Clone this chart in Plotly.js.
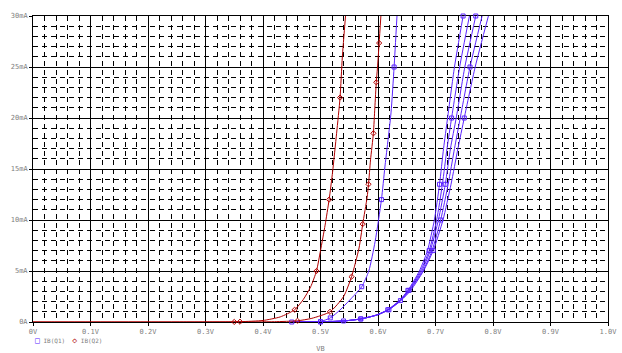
<!DOCTYPE html>
<html><head><meta charset="utf-8">
<script src="https://cdn.plot.ly/plotly-3.0.1.min.js"></script>
<style>html,body{margin:0;padding:0;background:#fff}#chart{width:622px;height:353px}</style>
</head><body><div id="chart"></div>
<script>
// Tick labels
const xTickVals = [0, 0.1, 0.2, 0.3, 0.4, 0.5, 0.6, 0.7, 0.8, 0.9, 1.0];
const xTickText = ['0V', '0.1V', '0.2V', '0.3V', '0.4V', '0.5V', '0.6V', '0.7V', '0.8V', '0.9V', '1.0V'];
const yTickVals = [0, 5, 10, 15, 20, 25, 30];
const yTickText = ['0A', '5mA', '10mA', '15mA', '20mA', '25mA', '30mA'];
const seriesNames = ['IB(Q1)', 'IB(Q2)'];

// IB(Q2) – red curves (V in volts, I in mA)
const q2aV = [0, 0.30, 0.36, 0.40, 0.43, 0.455, 0.47, 0.483, 0.493, 0.50, 0.508, 0.515, 0.521, 0.528, 0.534, 0.538, 0.5435];
const q2aI = [0, 0.005, 0.03, 0.15, 0.5, 1.2, 2.2, 3.46, 5.0, 7.0, 9.5, 12, 14.7, 18.5, 22, 26, 30];
const q2bV = [0, 0.35, 0.42, 0.46, 0.485, 0.5165, 0.540, 0.554, 0.567, 0.5734, 0.581, 0.5835, 0.587, 0.592, 0.5945, 0.597, 0.599, 0.602, 0.605];
const q2bI = [0, 0.005, 0.03, 0.12, 0.36, 1.0, 2.48, 4.44, 7.25, 9.6, 12.2, 13.5, 15.9, 18.5, 21.0, 23.5, 24.9, 27.35, 30];

// IB(Q1) – blue curves
const q1aV = [0.45, 0.48, 0.50, 0.517, 0.534, 0.551, 0.5717, 0.584, 0.595, 0.606, 0.612, 0.6226, 0.628, 0.633];
const q1aI = [0, 0.01, 0.05, 0.4, 1.18, 2.16, 3.46, 5.0, 7.9, 12, 15.2, 20.5, 25, 30];
const famI  = [0, 0.02, 0.1, 0.3, 0.7, 1.2, 2.1, 3.1, 5, 7, 10, 13.5, 17, 20, 25, 30];
const fam1V = [0.450, 0.500, 0.540, 0.570, 0.598, 0.617, 0.637, 0.652, 0.672, 0.686, 0.698, 0.707, 0.714, 0.721, 0.733, 0.748];
const fam2V = [0.450, 0.500, 0.540, 0.570, 0.598, 0.617, 0.638, 0.653, 0.674, 0.689, 0.702, 0.712, 0.720, 0.728, 0.742, 0.759];
const fam3V = [0.450, 0.500, 0.540, 0.570, 0.599, 0.618, 0.639, 0.654, 0.676, 0.691, 0.705, 0.717, 0.726, 0.736, 0.751, 0.770];
const fam4V = [0.450, 0.500, 0.540, 0.570, 0.599, 0.618, 0.639, 0.655, 0.678, 0.694, 0.709, 0.722, 0.733, 0.743, 0.760, 0.781];
const fam5V = [0.450, 0.500, 0.540, 0.570, 0.599, 0.619, 0.640, 0.657, 0.679, 0.696, 0.713, 0.727, 0.739, 0.750, 0.769, 0.792];

const BLUE = '#5a23ff';
const RED = '#b00000';
const MONO = 'DejaVu Sans Mono';

function curve(x, y, color, symbol, nMarkers) {
  return {
    type: 'scatter', mode: 'lines+markers', x: x, y: y,
    line: {color: color, width: 1, shape: 'spline', smoothing: 0.6},
    marker: {symbol: symbol, size: 4, color: color, line: {color: color, width: 1}, maxdisplayed: nMarkers},
    cliponaxis: false,
    showlegend: false, hoverinfo: 'skip'
  };
}

const traces = [
  curve(q1aV, q1aI, BLUE, 'square-open', 6),
  curve(fam1V, famI, BLUE, 'square-open', 4),
  curve(fam2V, famI, BLUE, 'square-open', 4),
  curve(fam3V, famI, BLUE, 'square-open', 4),
  curve(fam4V, famI, BLUE, 'square-open', 4),
  curve(fam5V, famI, BLUE, 'square-open', 4),
  curve(q2aV, q2aI, RED, 'diamond-open', 7),
  curve(q2bV, q2bI, RED, 'diamond-open', 16)
];

const axisCommon = {
  showgrid: true, gridcolor: '#000', gridwidth: 1,
  zeroline: false, showline: true, mirror: true, linecolor: '#000', linewidth: 1,
  ticks: 'outside', ticklen: 3, tickcolor: '#000', tickwidth: 1,
  tickfont: {family: MONO, size: 7, color: '#808080'},
  layer: 'below traces', automargin: false,
  fixedrange: true
};

const layout = {
  width: 622, height: 353,
  margin: {l: 33, r: 14, t: 16, b: 31, pad: 0, autoexpand: false},
  paper_bgcolor: '#fff', plot_bgcolor: '#fff',
  xaxis: Object.assign({}, axisCommon, {
    range: [0, 1], tickmode: 'array', tickvals: xTickVals, ticktext: xTickText,
    minor: {tick0: 0, dtick: 0.02, showgrid: true, gridcolor: '#000', gridwidth: 1, griddash: '5px,4px', ticks: ''},
    title: {text: 'VB', font: {family: MONO, size: 7, color: '#808080'}, standoff: 10}
  }),
  yaxis: Object.assign({}, axisCommon, {
    range: [0, 30], tickmode: 'array', tickvals: yTickVals, ticktext: yTickText,
    minor: {tick0: 0, dtick: 1, showgrid: true, gridcolor: '#000', gridwidth: 1, griddash: '5px,4px', ticks: ''}
  }),
  showlegend: false,
  annotations: [
    {xref: 'paper', yref: 'paper', x: 0, y: -0.062, xanchor: 'left', yanchor: 'middle', showarrow: false,
     text: '<span style="color:' + BLUE + ';font-size:8px">□</span> ' + seriesNames[0] +
           '  <span style="color:' + RED + ';font-size:8px">◇</span> ' + seriesNames[1],
     font: {family: MONO, size: 6, color: '#808080'}}
  ]
};

Plotly.newPlot('chart', traces, layout, {staticPlot: true, displayModeBar: false});
</script>
</body></html>
